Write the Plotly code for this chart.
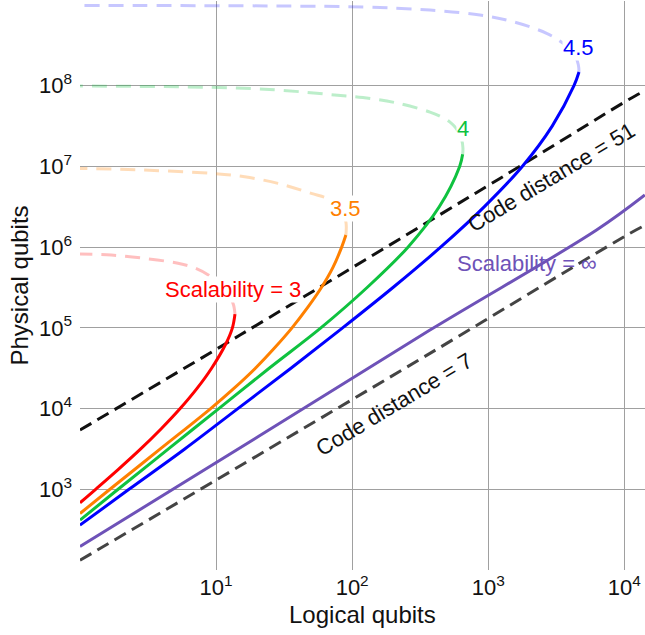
import plotly.graph_objects as go

FONT = "Liberation Sans, Arial, Helvetica, sans-serif"

# ---------------- data ----------------
# Scalability = 3
red_solid_logical = [1, 1.303, 1.923, 2.793, 3.954, 5.445, 7.244, 9.268, 11.78, 13.18, 13.77]
red_solid_physical = [680.8, 1000, 1778, 3162, 5623, 10000, 17780, 31620, 63100, 100000, 147900]
red_dash_logical = [13.77, 13.30, 11.61, 9.226, 7.0, 5.248, 2.985, 1.698, 1]
red_dash_physical = [147900, 202800, 285800, 426600, 550800, 631000, 726100, 798000, 822200]

# Scalability = 3.5
orange_solid_logical = [1, 1.660, 3.890, 9.120, 13.52, 19.45, 26.85, 36.14, 46.99, 59.43,
                        72.28, 83.75, 89.95]
orange_solid_physical = [501.2, 1000, 3162, 10000, 17780, 31620, 56230, 100000, 177800,
                         316200, 562300, 1.0e6, 1.413e6]
orange_dash_logical = [89.95, 90.16, 85.11, 78.52, 70.31, 50.12, 28.51, 16.22, 9.226, 2.985, 1]
orange_dash_physical = [1.413e6, 1.995e6, 2.692e6, 3.311e6, 3.837e6, 4.645e6, 6.166e6,
                        7.447e6, 8.204e6, 9.016e6, 9.462e6]

# Scalability = 4
green_solid_logical = [1, 1.905, 4.467, 10.47, 24.55, 58.88, 128.8, 257.0, 436.5, 616.6, 648.6]
green_solid_physical = [415.0, 1000, 3162, 10000, 31620, 100000, 316200, 1.0e6,
                        3.162e6, 1.0e7, 1.413e7]
green_dash_logical = [648.6, 651.6, 631.0, 575.4, 523.6, 446.7, 373.3, 213.3, 119.9,
                      68.71, 28.51, 9.226, 1]
green_dash_physical = [1.413e7, 1.698e7, 2.291e7, 3.020e7, 3.548e7, 4.169e7, 4.721e7,
                       6.109e7, 7.145e7, 7.780e7, 8.851e7, 9.550e7, 9.908e7]

# Scalability = 4.5
blue_solid_logical = [1, 2.291, 5.888, 14.45, 35.48, 85.11, 199.5, 446.7, 933.3, 1778,
                      2951, 4266, 4645]
blue_solid_physical = [359.7, 1000, 3162, 10000, 31620, 100000, 316200, 1.0e6, 3.162e6,
                       1.0e7, 3.162e7, 1.0e8, 1.479e8]
blue_dash_logical = [4645, 4592, 4266, 3556, 2685, 1528, 869.0, 373.3, 120.8, 28.51, 1]
blue_dash_physical = [1.479e8, 1.820e8, 2.512e8, 3.350e8, 4.457e8, 6.209e8, 7.516e8,
                      8.670e8, 9.441e8, 9.727e8, 9.886e8]

# Scalability = infinity
purple_logical = [1, 20.3, 373, 6252, 14160]
purple_physical = [195, 4477, 93970, 1.63e6, 4.43e6]

# Code distance = 7
d7_logical = [1, 373, 10990, 14160]
d7_physical = [131.8, 48300, 1.483e6, 1.862e6]

# Code distance = 51
d51_logical = [1, 15.0, 1219, 13030, 14160]
d51_physical = [5420, 81470, 7.11e6, 8.054e7, 8.51e7]

x_tickvals = [10, 100, 1000, 10000]
x_ticktext = ["10<sup>1</sup>", "10<sup>2</sup>", "10<sup>3</sup>", "10<sup>4</sup>"]
y_tickvals = [1e3, 1e4, 1e5, 1e6, 1e7, 1e8]
y_ticktext = ["10<sup>3</sup>", "10<sup>4</sup>", "10<sup>5</sup>",
              "10<sup>6</sup>", "10<sup>7</sup>", "10<sup>8</sup>"]

# ---------------- styles ----------------
RED = "#FF0000"
ORANGE = "#FF8000"
GREEN = "#0FC23F"
BLUE = "#0000FF"
PURPLE = "#6E52B8"

fig = go.Figure()

def line(x, y, color, width=3, dash=None):
    fig.add_trace(go.Scatter(x=x, y=y, mode="lines",
                             line=dict(color=color, width=width, dash=dash, shape="spline",
                                       smoothing=1.0),
                             hoverinfo="skip", showlegend=False))

# light dashed (unstable branches)
line(red_dash_logical, red_dash_physical, "rgba(255,0,0,0.25)", 3, "15px,9px")
line(orange_dash_logical, orange_dash_physical, "rgba(255,128,0,0.28)", 3, "15px,9px")
line(green_dash_logical, green_dash_physical, "rgba(15,194,63,0.28)", 3, "15px,9px")
line(blue_dash_logical, blue_dash_physical, "rgba(0,0,255,0.22)", 3, "15px,9px")

# code distance reference lines
line(d7_logical, d7_physical, "#444444", 3, "13px,7px")
line(d51_logical, d51_physical, "#111111", 3, "13px,7px")

# scalability infinity
line(purple_logical, purple_physical, PURPLE, 3)

# solid curves
line(red_solid_logical, red_solid_physical, RED, 3)
line(orange_solid_logical, orange_solid_physical, ORANGE, 3)
line(green_solid_logical, green_solid_physical, GREEN, 3)
line(blue_solid_logical, blue_solid_physical, BLUE, 3)

# ---------------- annotations ----------------
def label(text, x, y, color, angle=0, bg=None):
    fig.add_annotation(x=x, y=y, xref="x", yref="y", text=text, showarrow=False,
                       textangle=angle, font=dict(family=FONT, size=22, color=color),
                       bgcolor=bg, borderpad=0, xanchor="center", yanchor="middle")

label("Scalability = 3", 1.124, 5.48, RED, bg="white")
label("3.5", 1.954, 6.485, ORANGE, bg="white")
label("4", 2.814, 7.47, GREEN, bg="white")
label("4.5", 3.666, 8.48, BLUE, bg="white")
label("Code distance = 51", 3.461, 6.869, "#111111", angle=-31)
label("Code distance = 7", 2.307, 4.056, "#111111", angle=-31)
label("Scalability = ∞", 3.284, 5.797, PURPLE)

# axis titles
fig.add_annotation(x=0.5, y=0, xref="paper", yref="paper", text="Logical qubits",
                   showarrow=False, yshift=-44, xanchor="center", yanchor="middle",
                   font=dict(family=FONT, size=24, color="#111111"))
fig.add_annotation(x=0, y=0.5, xref="paper", yref="paper", text="Physical qubits",
                   showarrow=False, xshift=-61, textangle=-90, xanchor="center",
                   yanchor="middle", font=dict(family=FONT, size=24, color="#111111"))

GRID = "#A0A0A0"
fig.update_xaxes(type="log", range=[0, 4.152], tickvals=x_tickvals, ticktext=x_ticktext,
                 showgrid=True, gridcolor=GRID, gridwidth=1.2, zeroline=False,
                 showline=False, ticks="", automargin=False, ticklabelstandoff=2,
                 tickfont=dict(family=FONT, size=22, color="#111111"))
fig.update_yaxes(type="log", range=[2, 9.05], tickvals=y_tickvals, ticktext=y_ticktext,
                 showgrid=True, gridcolor=GRID, gridwidth=1.2, zeroline=False,
                 showline=False, ticks="", automargin=False, ticklabelstandoff=7,
                 tickfont=dict(family=FONT, size=22, color="#111111"))

fig.update_layout(width=645, height=635, margin=dict(l=80, r=0, t=1, b=65),
                  plot_bgcolor="white", paper_bgcolor="white", showlegend=False,
                  font=dict(family=FONT))

fig.write_html("out.html", config={"displayModeBar": False},
               post_script="document.body.style.margin='0px';"
                           "document.body.style.overflow='hidden';")
